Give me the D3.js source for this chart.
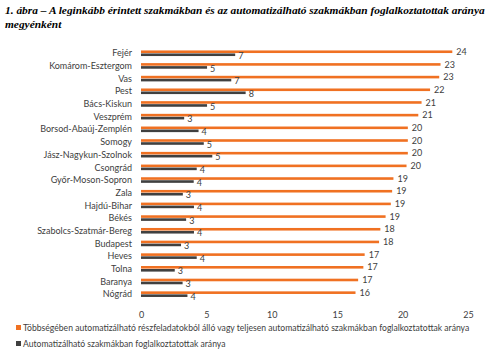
<!DOCTYPE html>
<html>
<head>
<meta charset="utf-8">
<script src="https://cdn.jsdelivr.net/npm/d3@7"></script>
<style>
  body { margin: 0; background: #fff; }
  text { font-family: Lato, "Open Sans", sans-serif; fill: #404040; }
</style>
</head>
<body>
<div id="chart"></div>
<script>
// megyék, fentről lefelé
const counties = ["Fejér", "Komárom-Esztergom", "Vas", "Pest", "Bács-Kiskun", "Veszprém",
  "Borsod-Abaúj-Zemplén", "Somogy", "Jász-Nagykun-Szolnok", "Csongrád", "Győr-Moson-Sopron",
  "Zala", "Hajdú-Bihar", "Békés", "Szabolcs-Szatmár-Bereg", "Budapest", "Heves", "Tolna",
  "Baranya", "Nógrád"];
// többségében / teljesen automatizálható (%)
const mostlyAuto = [23.8, 22.9, 22.8, 22.1, 21.45, 21.2, 20.4, 20.4, 20.4, 20.3, 19.3, 19.2,
  19.1, 18.7, 18.3, 18.2, 17.1, 17.0, 16.6, 16.4];
// automatizálható (%)
const fullyAuto = [7.2, 5.05, 6.9, 8.0, 5.05, 3.3, 4.4, 4.8, 5.45, 4.26, 4.03, 3.2, 4.05,
  3.45, 4.05, 3.06, 4.26, 2.58, 3.18, 3.55];
const xTicks = [0, 5, 10, 15, 20, 25];
const legendLabels = [
  "Többségében automatizálható részfeladatokból álló vagy teljesen automatizálható szakmákban foglalkoztatottak aránya",
  "Automatizálható szakmákban foglalkoztatottak aránya"
];
const colors = ["#f07122", "#404040"];

const width = 490, height = 353;
const svg = d3.select("#chart").append("svg")
  .attr("width", width).attr("height", height);

// cím
const title = svg.append("text")
  .style("font-family", "'Liberation Serif', serif")
  .style("font-style", "italic").style("font-weight", "bold")
  .style("font-size", "11.4px").style("fill", "#000");
title.append("tspan").attr("x", 5).attr("y", 14)
  .text("1. ábra – A leginkább érintett szakmákban és az automatizálható szakmákban foglalkoztatottak aránya");
title.append("tspan").attr("x", 5).attr("y", 28).text("megyénként");

const x = d3.scaleLinear().domain([0, 25]).range([141, 468]);
const y = d3.scaleBand().domain(counties).range([46.9, 300.5]).padding(0);

const rows = counties.map((c, i) => ({ name: c, a: mostlyAuto[i], b: fullyAuto[i] }));

// kategória feliratok
svg.append("g").selectAll("text").data(rows).enter().append("text")
  .attr("x", 132)
  .attr("y", d => y(d.name) + y.bandwidth() / 2)
  .attr("dy", "0.35em")
  .attr("text-anchor", "end")
  .style("font-size", "9px")
  .text(d => d.name);

// narancs oszlopok
svg.append("g").selectAll("rect").data(rows).enter().append("rect")
  .attr("x", x(0))
  .attr("y", d => y(d.name) + y.bandwidth() / 2 - 2.8)
  .attr("width", d => x(d.a) - x(0))
  .attr("height", 2.6)
  .attr("fill", colors[0]);

// sötét oszlopok
svg.append("g").selectAll("rect").data(rows).enter().append("rect")
  .attr("x", x(0))
  .attr("y", d => y(d.name) + y.bandwidth() / 2 + 0.2)
  .attr("width", d => x(d.b) - x(0))
  .attr("height", 2.6)
  .attr("fill", colors[1]);

// értékcímkék
svg.append("g").selectAll("text").data(rows).enter().append("text")
  .attr("x", d => x(d.a) + 4)
  .attr("y", d => y(d.name) + y.bandwidth() / 2 - 1.5)
  .attr("dy", "0.35em")
  .style("font-size", "9px")
  .text(d => Math.round(d.a));
svg.append("g").selectAll("text").data(rows).enter().append("text")
  .attr("x", d => x(d.b) + 3)
  .attr("y", d => y(d.name) + y.bandwidth() / 2 + 2.5)
  .attr("dy", "0.35em")
  .style("font-size", "9px")
  .text(d => Math.round(d.b));

// x tengely
const axis = svg.append("g")
  .attr("transform", "translate(0,312)")
  .call(d3.axisBottom(x).tickValues(xTicks).tickSize(0).tickPadding(0));
axis.select(".domain").remove();
axis.selectAll("text").style("font-size", "9px").style("font-family", "Lato, sans-serif")
  .attr("fill", "#404040");

// jelmagyarázat
const legend = svg.append("g").selectAll("g").data(legendLabels).enter().append("g")
  .attr("transform", (d, i) => `translate(16,${328 + i * 16})`);
legend.append("rect").attr("x", 0).attr("y", -3).attr("width", 5).attr("height", 5)
  .attr("fill", (d, i) => colors[i]);
legend.append("text").attr("x", 7).attr("y", -0.5).attr("dy", "0.35em")
  .style("font-size", "8.6px")
  .text(d => d);
</script>
</body>
</html>
